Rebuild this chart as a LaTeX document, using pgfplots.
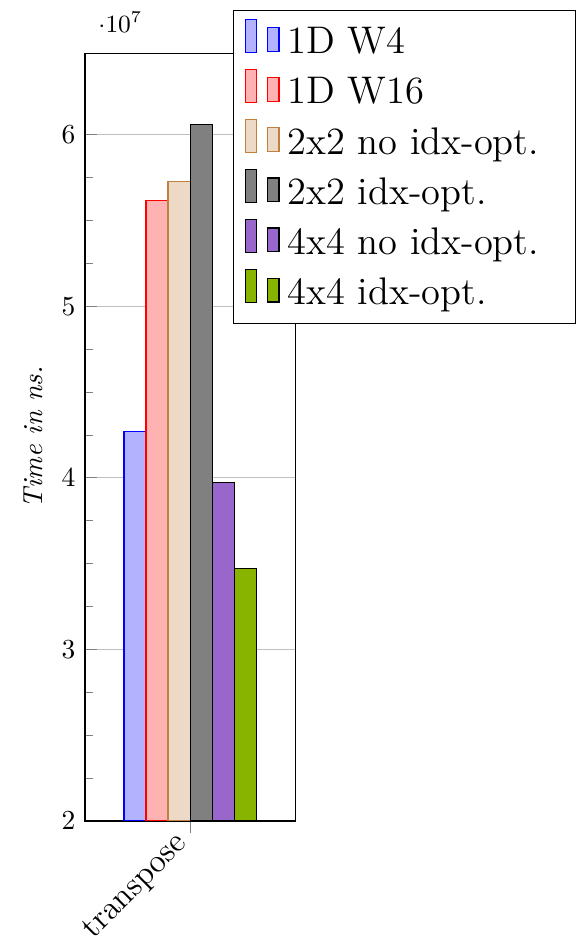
\documentclass[border=0pt]{standalone}
\usepackage{pgfplots}
\pgfplotsset{compat=1.18}
\definecolor{barpurple}{RGB}{153,102,204}
\definecolor{bargreen}{RGB}{136,180,0}
\pgfplotsset{mybarlegend/.style={legend image code/.code={%
  \draw[##1] (0pt,-3.8pt) rectangle (4pt,8.2pt);
  \draw[##1] (7.9pt,-3.6pt) rectangle (12.1pt,5.1pt);}}}
\newcommand{\legtxt}[1]{\makebox[97.5pt][l]{#1}}
\begin{document}
\begin{tikzpicture}
\begin{axis}[
  ybar=0pt,
  bar width=8pt,
  scale only axis,
  width=76.4pt, height=278.9pt,
  xmin=-1, xmax=1,
  ymin=2e7, ymax=6.47e7,
  xtick={0}, xticklabels={transpose},
  xtick align=outside,
  xticklabel style={rotate=45, anchor=east, font=\fontsize{12}{14}\selectfont},
  ytick={2e7,3e7,4e7,5e7,6e7},
  minor y tick num=3,
  ytick pos=left, xtick pos=bottom,
  tick style={gray},
  ymajorgrids,
  major grid style={gray!50},
  ylabel={\textit{Time in ns.}},
  every y tick scale label/.style={at={(rel axis cs:0,1)}, anchor=south west, inner sep=0pt, xshift=4.7pt, yshift=7.5pt, font=\small},
  every axis plot post/.append style={mybarlegend},
  legend cell align=left,
  legend style={at={(0.704,1.057)}, anchor=north west, inner xsep=4.25pt, inner ysep=2.2pt,
    font=\fontsize{14}{16}\selectfont,
    nodes={text height=11pt, text depth=2.2pt, inner xsep=2.95pt, inner ysep=2.5pt}},
]
\addplot[draw=blue, fill=blue!30] coordinates {(0,4.271e7)};
\addplot[draw=red, fill=red!30] coordinates {(0,5.615e7)};
\addplot[draw=brown, fill=brown!30] coordinates {(0,5.724e7)};
\addplot[draw=black, fill=gray] coordinates {(0,6.061e7)};
\addplot[draw=black, fill=barpurple] coordinates {(0,3.974e7)};
\addplot[draw=black, fill=bargreen] coordinates {(0,3.469e7)};
\legend{\legtxt{1D W4}, \legtxt{1D W16}, \legtxt{2x2 no idx-opt.}, \legtxt{2x2 idx-opt.}, \legtxt{4x4 no idx-opt.}, \legtxt{4x4 idx-opt.}}
\end{axis}
\pgfresetboundingbox
\useasboundingbox ([shift={(-30.9pt,-44pt)}]current axis.south west) rectangle ++(210.9pt,342.5pt);
\end{tikzpicture}
\end{document}
